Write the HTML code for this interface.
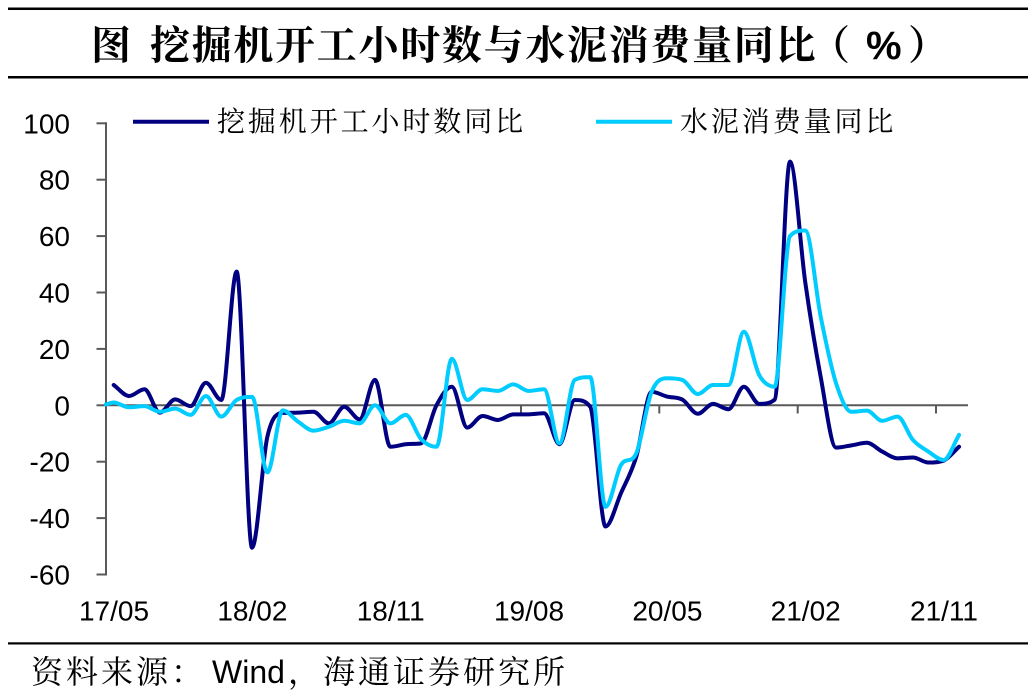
<!DOCTYPE html>
<html><head><meta charset="utf-8"><style>
html,body{margin:0;padding:0;background:#fff;}
svg{display:block;}
.cjk{font-family:"Noto Serif CJK SC","Noto Sans CJK SC",serif;}
.num{font-family:"Liberation Sans",Arial,sans-serif;font-size:28px;fill:#000;}
</style></head><body>
<svg width="1036" height="693" viewBox="0 0 1036 693" xmlns="http://www.w3.org/2000/svg">
<rect x="0" y="0" width="1036" height="693" fill="#fff"/>
<!-- rules -->
<rect x="8" y="7.5" width="1020" height="2.5" fill="#000"/>
<rect x="8" y="76" width="1020" height="2.5" fill="#000"/>
<rect x="8" y="642.3" width="1020" height="2.2" fill="#000"/>
<!-- title -->
<text class="cjk" font-size="40" font-weight="bold" fill="#000" y="59" x="91">图</text>
<text class="cjk" font-size="40" font-weight="bold" fill="#000" y="59" x="150 191.7 233.4 275.1 316.8 358.5 400.2 441.9 483.6 525.3 567 608.7 650.4 692.1 733.8 775.5">挖掘机开工小时数与水泥消费量同比</text>
<text class="cjk" font-size="40" font-weight="bold" fill="#000" y="59" x="810">（</text>
<text font-family="Liberation Sans,Arial,sans-serif" font-size="40" font-weight="bold" fill="#000" y="59" x="866">%</text>
<text class="cjk" font-size="40" font-weight="bold" fill="#000" y="59" x="908">）</text>

<!-- axes -->
<g stroke="#595959" stroke-width="2" fill="none">
<line x1="106" y1="122.3" x2="106" y2="575.5"/>
<line x1="96.5" y1="123.3" x2="106" y2="123.3"/>
<line x1="96.5" y1="179.7" x2="106" y2="179.7"/>
<line x1="96.5" y1="236.1" x2="106" y2="236.1"/>
<line x1="96.5" y1="292.5" x2="106" y2="292.5"/>
<line x1="96.5" y1="348.9" x2="106" y2="348.9"/>
<line x1="96.5" y1="405.3" x2="106" y2="405.3"/>
<line x1="96.5" y1="461.7" x2="106" y2="461.7"/>
<line x1="96.5" y1="518.1" x2="106" y2="518.1"/>
<line x1="96.5" y1="574.5" x2="106" y2="574.5"/>
<line x1="106" y1="405.3" x2="968" y2="405.3"/>
<line x1="244.3" y1="405.3" x2="244.3" y2="413.5"/>
<line x1="382.7" y1="405.3" x2="382.7" y2="413.5"/>
<line x1="521" y1="405.3" x2="521" y2="413.5"/>
<line x1="659.3" y1="405.3" x2="659.3" y2="413.5"/>
<line x1="797.7" y1="405.3" x2="797.7" y2="413.5"/>
<line x1="936" y1="405.3" x2="936" y2="413.5"/>
</g>
<!-- y labels -->
<g class="num" text-anchor="end">
<text x="70" y="133.3">100</text>
<text x="70" y="189.7">80</text>
<text x="70" y="246.1">60</text>
<text x="70" y="302.5">40</text>
<text x="70" y="358.9">20</text>
<text x="70" y="415.3">0</text>
<text x="70" y="471.7">-20</text>
<text x="70" y="528.1">-40</text>
<text x="70" y="584.5">-60</text>
</g>
<!-- x labels -->
<g class="num" text-anchor="middle">
<text x="114" y="620.5">17/05</text>
<text x="252.4" y="620.5">18/02</text>
<text x="390.7" y="620.5">18/11</text>
<text x="529" y="620.5">19/08</text>
<text x="667.4" y="620.5">20/05</text>
<text x="805.7" y="620.5">21/02</text>
<text x="944" y="620.5">21/11</text>
</g>

<!-- series -->
<g transform="matrix(15.37,0,0,-2.82,113.7,405.3)" fill="none" stroke-linejoin="round" stroke-linecap="round">
<path id="s1" stroke="#000080" stroke-width="4" vector-effect="non-scaling-stroke" d="M0 7.2"/>
<path id="s2" stroke="#00CCFF" stroke-width="4" vector-effect="non-scaling-stroke" d="M0 1"/>
</g>

<!-- legend -->
<line x1="133" y1="121.7" x2="209" y2="121.7" stroke="#000080" stroke-width="4"/>
<text class="cjk" font-size="28" fill="#000" y="131" x="217 247.9 278.8 309.7 340.6 371.5 402.4 433.3 464.2 495.1">挖掘机开工小时数同比</text>
<line x1="596" y1="121.7" x2="672" y2="121.7" stroke="#00CCFF" stroke-width="4"/>
<text class="cjk" font-size="28" fill="#000" y="131" x="680 710.9 741.8 772.7 803.6 834.5 865.4">水泥消费量同比</text>

<!-- footer -->
<text class="cjk" font-size="32" fill="#000" y="683" x="31 66 101 136 171">资料来源：</text>
<text font-family="Liberation Sans,Arial,sans-serif" font-size="32" fill="#000" y="683" x="212">Wind</text>
<text class="cjk" font-size="32" fill="#000" y="683" x="288 323 358 393 428 463 498 533">，海通证券研究所</text>
</svg>
<script>
(function(){
var d1=[7.2,3.3,5.7,-2.6,2.1,-0.3,8,1.9,47.4,-50.5,-11.1,-2.7,-2.6,-2.3,-6.4,-0.5,-5,9,-14.7,-13.8,-13.5,0,6.6,-7.9,-3.8,-5.2,-3.2,-3.2,-2.8,-13.8,1.9,-0.5,-43,-31.2,-18.2,4.8,3.1,2,-3,0.5,-1.4,6.6,0.5,2,86.4,43.4,10,-15,-14.2,-13.3,-16.4,-18.8,-18.5,-20.3,-19.6,-14.7];
var d2=[1.0,-0.7,-0.3,-2.3,-1.2,-3.4,3.3,-4,1.9,3,-23.8,-1.8,-5.8,-9,-7.6,-5.5,-6.4,0,-6.4,-3.4,-12,-14.7,16.5,1.9,5.7,5.1,7.4,5.1,5.7,-13.5,9,10,-36,-21.2,-17,4.8,9.6,9,4,7.2,7.2,26.1,10.7,6.6,60,62,31.4,7.8,-2.3,-1.9,-5.5,-4,-12.3,-16.4,-19.4,-10.5];
function pts(a,start){var p=[];if(start)p.push(start);for(var i=0;i<a.length;i++)p.push([i,a[i]]);return p;}
function poly(p){var s='M'+p[0][0]+' '+p[0][1];for(var i=1;i<p.length;i++)s+=' L'+p[i][0]+' '+p[i][1];return s;}
function smooth(p){
var n=p.length,d=[],m=[];
for(var i=0;i<n-1;i++)d.push((p[i+1][1]-p[i][1])/(p[i+1][0]-p[i][0]));
m[0]=d[0];m[n-1]=d[n-2];
for(var i=1;i<n-1;i++){
 if(d[i-1]*d[i]<=0){m[i]=0;}
 else{
  var mm=(d[i-1]+d[i])/2;
  var a=mm/d[i-1],b=mm/d[i],s=a*a+b*b;
  if(s>9){var t=3/Math.sqrt(s);mm=t*mm;}
  m[i]=mm;
 }
}
var s='M'+p[0][0]+' '+p[0][1];
for(var i=0;i<n-1;i++){
 var h=p[i+1][0]-p[i][0];
 var c1x=p[i][0]+h/3,c1y=p[i][1]+m[i]*h/3;
 var c2x=p[i+1][0]-h/3,c2y=p[i+1][1]-m[i+1]*h/3;
 s+=' C'+c1x.toFixed(3)+' '+c1y.toFixed(3)+' '+c2x.toFixed(3)+' '+c2y.toFixed(3)+' '+p[i+1][0]+' '+p[i+1][1];
}
return s;}
var a=pts(d1),b=pts(d2,[-0.5,0.3]);
var e1=document.getElementById('s1'),e2=document.getElementById('s2');
e1.setAttribute('d',poly(a));e2.setAttribute('d',poly(b));
e1.setAttribute('d',smooth(a));e2.setAttribute('d',smooth(b));
})();
</script>
</body></html>
